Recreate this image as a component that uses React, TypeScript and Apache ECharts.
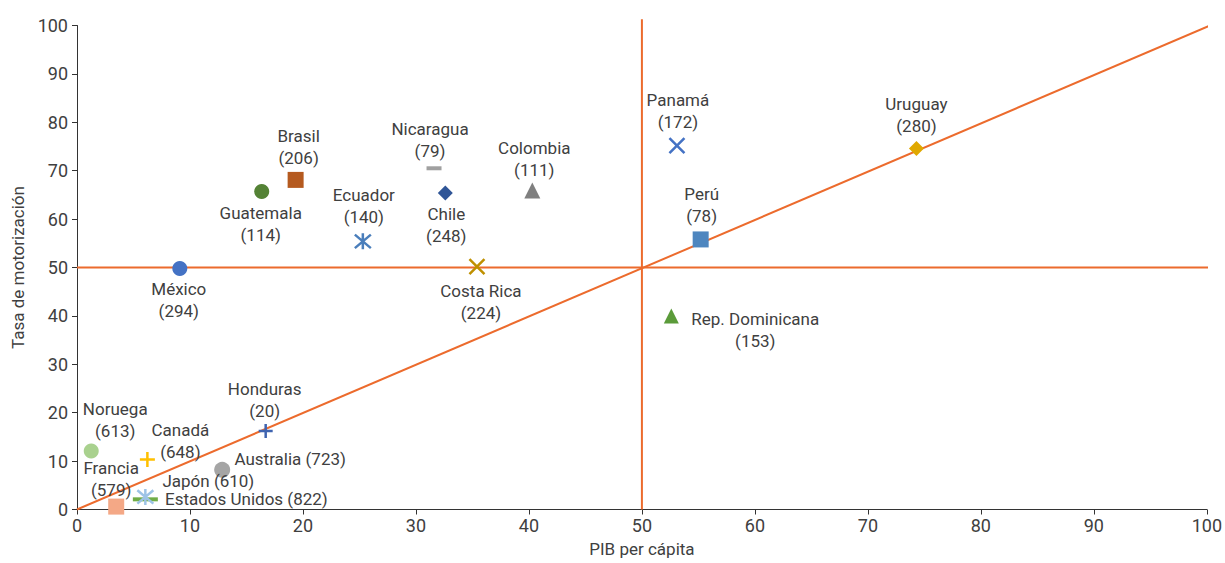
import React, { useEffect, useRef } from "react";
import * as echarts from "echarts";

// ---- data ----
const countries = [
  "México", "Guatemala", "Brasil", "Ecuador", "Nicaragua", "Chile", "Colombia",
  "Costa Rica", "Panamá", "Perú", "Uruguay", "Rep. Dominicana", "Honduras",
  "Noruega", "Canadá", "Australia", "Francia", "Japón", "Estados Unidos",
];
const pibPerCapita = [
  9.1, 16.35, 19.35, 25.3, 31.6, 32.6, 40.3,
  35.4, 53.1, 55.2, 74.3, 52.6, 16.7,
  1.26, 6.23, 12.85, 3.47, 6.05, 6.05,
];
const tasaMotorizacion = [
  49.8, 65.7, 68.1, 55.4, 70.5, 65.4, 65.9,
  50.2, 75.2, 55.8, 74.6, 40.0, 16.2,
  12.1, 10.35, 8.2, 0.6, 2.6, 2.1,
];
const vehiculos = [
  294, 114, 206, 140, 79, 248, 111,
  224, 172, 78, 280, 153, 20,
  613, 648, 723, 579, 610, 822,
];
const xTicks = [0, 10, 20, 30, 40, 50, 60, 70, 80, 90, 100];
const yTicks = [0, 10, 20, 30, 40, 50, 60, 70, 80, 90, 100];
const refDiagonal = [[0, 0], [100.3, 100]];
const refHorizontal = [[0, 50], [101, 50]];
const refVertical = [[50, 0], [50, 101.3]];

// ---- styles ----
const X_PATH = "path://M0,0L10,10M10,0L0,10";
const PLUS_PATH = "path://M5,0L5,10M0,5L10,5";
const AST_PATH = "path://M0.8,0.8L9.2,9.2M9.2,0.8L0.8,9.2M5,0L5,10";

type Sty = {
  symbol: string;
  size: number | number[];
  color: string;
  stroke?: boolean;
  offset: number[];
  oneLine?: boolean;
};

const styles: Record<string, Sty> = {
  "México": { symbol: "circle", size: 15, color: "#4472C4", offset: [-1, 32] },
  "Guatemala": { symbol: "circle", size: 15, color: "#548235", offset: [-1, 32] },
  "Brasil": { symbol: "rect", size: 16, color: "#B55A1F", offset: [3, -33] },
  "Ecuador": { symbol: AST_PATH, size: 16, color: "#4A7EBB", stroke: true, offset: [1, -35] },
  "Nicaragua": { symbol: "rect", size: [15, 4], color: "#A0A0A0", offset: [-4, -28] },
  "Chile": { symbol: "diamond", size: 15, color: "#2F5597", offset: [1, 32] },
  "Colombia": { symbol: "triangle", size: 16, color: "#7F7F7F", offset: [2, -32] },
  "Costa Rica": { symbol: X_PATH, size: 15, color: "#BF9000", stroke: true, offset: [4, 35] },
  "Panamá": { symbol: X_PATH, size: 15, color: "#4472C4", stroke: true, offset: [1, -35] },
  "Perú": { symbol: "rect", size: 16, color: "#4E86BF", offset: [1, -34] },
  "Uruguay": { symbol: "diamond", size: 15, color: "#E0A800", offset: [0, -33] },
  "Rep. Dominicana": { symbol: "triangle", size: 15, color: "#5B9B3A", offset: [84, 14] },
  "Honduras": { symbol: PLUS_PATH, size: 14, color: "#3F64B0", stroke: true, offset: [-1, -31] },
  "Noruega": { symbol: "circle", size: 15, color: "#A9D18E", offset: [24, -31] },
  "Canadá": { symbol: PLUS_PATH, size: 15, color: "#FFC000", stroke: true, offset: [33, -18] },
  "Australia": { symbol: "circle", size: 16, color: "#A5A5A5", offset: [68, -11], oneLine: true },
  "Francia": { symbol: "rect", size: 16, color: "#F4A886", offset: [-5, -28] },
  "Japón": { symbol: AST_PATH, size: 16, color: "#9DC3E6", stroke: true, offset: [63, -16], oneLine: true },
  "Estados Unidos": { symbol: "rect", size: [25, 4], color: "#70AD47", offset: [101, 0], oneLine: true },
};

const FONT = "Roboto";
const TEXT = "#404040";
const ORANGE = "#EC6B2D";

export default function App() {
  const ref = useRef<HTMLDivElement>(null);
  useEffect(() => {
    if (!ref.current) return;
    const chart = echarts.init(ref.current, undefined, { renderer: "svg" });

    const order = ["Estados Unidos", ...countries.filter((c) => c !== "Estados Unidos")];
    const scatterSeries = order.map((name) => {
      const i = countries.indexOf(name);
      const s = styles[name];
      return {
        type: "scatter",
        name,
        z: 5,
        symbol: s.symbol,
        symbolSize: s.size,
        itemStyle: s.stroke
          ? { color: s.color, borderColor: s.color, borderWidth: 2.5, opacity: 1 }
          : { color: s.color, opacity: 1 },
        label: {
          show: true,
          position: "inside",
          align: "center",
          verticalAlign: "middle",
          offset: s.offset,
          color: TEXT,
          fontFamily: FONT,
          fontSize: 17,
          lineHeight: 22,
          formatter: s.oneLine
            ? `${name} (${vehiculos[i]})`
            : `${name}\n(${vehiculos[i]})`,
        },
        emphasis: { disabled: true },
        data: [[pibPerCapita[i], tasaMotorizacion[i]]],
      };
    });

    const lineSeries = [refDiagonal, refHorizontal, refVertical].map((d) => ({
      type: "line",
      data: d,
      symbol: "none",
      clip: false,
      z: 2,
      lineStyle: { color: ORANGE, width: 2 },
      emphasis: { disabled: true },
    }));

    chart.setOption({
      animation: false,
      grid: { left: 77, right: 15, top: 25.5, bottom: 53.5, containLabel: false },
      xAxis: {
        type: "value",
        min: xTicks[0],
        max: xTicks[xTicks.length - 1],
        interval: xTicks[1] - xTicks[0],
        name: "PIB per cápita",
        nameLocation: "middle",
        nameGap: 31,
        nameTextStyle: { color: TEXT, fontFamily: FONT, fontSize: 17 },
        axisLine: { show: true, lineStyle: { color: "#333", width: 1 } },
        axisTick: { show: true, length: 5, lineStyle: { color: "#333" } },
        axisLabel: { color: TEXT, fontFamily: FONT, fontSize: 18, margin: 7 },
        splitLine: { show: false },
      },
      yAxis: {
        type: "value",
        min: yTicks[0],
        max: yTicks[yTicks.length - 1],
        interval: yTicks[1] - yTicks[0],
        name: "Tasa de motorización",
        nameLocation: "middle",
        nameGap: 49,
        nameTextStyle: { color: TEXT, fontFamily: FONT, fontSize: 17 },
        axisLine: { show: true, lineStyle: { color: "#333", width: 1 } },
        axisTick: { show: true, length: 5, lineStyle: { color: "#333" } },
        axisLabel: { color: TEXT, fontFamily: FONT, fontSize: 18, margin: 9 },
        splitLine: { show: false },
      },
      series: [...lineSeries, ...scatterSeries],
    });
    return () => chart.dispose();
  }, []);
  return <div ref={ref} style={{ width: 1225, height: 563, position: "absolute", left: 0, top: 0 }} />;
}
